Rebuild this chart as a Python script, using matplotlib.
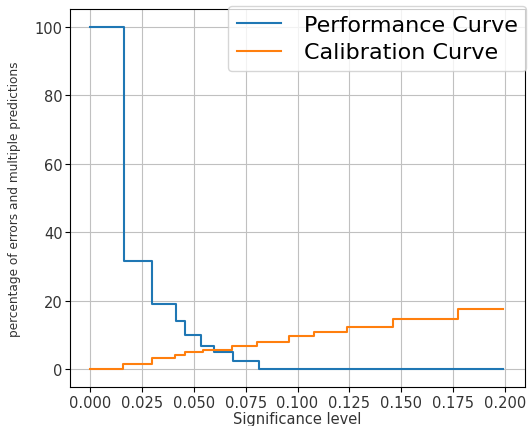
import matplotlib
matplotlib.use("Agg")
import matplotlib.pyplot as plt

# step curves, values
perf_x = [0.0, 0.0163, 0.0300, 0.0413, 0.0457, 0.0534, 0.0600, 0.0690, 0.0815, 0.199]
perf_y = [100, 31.5, 19.0, 14.0, 10.0, 6.7, 5.0, 2.5, 0.0, 0.0]

calib_x = [0.0, 0.0157, 0.0300, 0.0410, 0.0460, 0.0546, 0.0685, 0.0806,
           0.0958, 0.1080, 0.1240, 0.1460, 0.1775, 0.199]
calib_y = [0.0, 1.7, 3.2, 4.2, 5.0, 5.6, 6.8, 8.1, 9.6, 10.9, 12.5, 14.6, 17.7, 17.7]

xtick_vals = [0.0, 0.025, 0.05, 0.075, 0.1, 0.125, 0.15, 0.175, 0.2]
xtick_labels = ["0.000", "0.025", "0.050", "0.075", "0.100", "0.125", "0.150", "0.175", "0.200"]
ytick_vals = [0, 20, 40, 60, 80, 100]

fig = plt.figure(figsize=(5.28, 4.27), dpi=100)
ax = fig.add_axes([0.133, 0.091, 0.861, 0.886])

ax.step(perf_x, perf_y, where="post", color="#1f77b4", linewidth=1.5, label="Performance Curve")
ax.step(calib_x, calib_y, where="post", color="#ff7f0e", linewidth=1.5, label="Calibration Curve")

ax.set_xticks(xtick_vals)
ax.set_xticklabels(xtick_labels)
ax.set_yticks(ytick_vals)
ax.set_xlim(-0.0095, 0.2095)
ax.set_ylim(-5.2, 105.3)
ax.grid(True, color="#c0c0c0", linewidth=0.8)
ax.tick_params(axis="both", labelsize=10.5, pad=2, labelcolor="#333333")

ax.set_xlabel("Significance level", fontsize=10.5, labelpad=1, color="#333333")
ax.set_ylabel("percentage of errors and multiple predictions", fontsize=8.7,
              labelpad=10, color="#333333")

ax.legend(loc="upper left", bbox_to_anchor=(0.347, 1.008), borderaxespad=0,
          fontsize=16, handlelength=2.0, handletextpad=1.0,
          labelspacing=0.35, borderpad=0.4)

fig.savefig("out.png", dpi=100)
